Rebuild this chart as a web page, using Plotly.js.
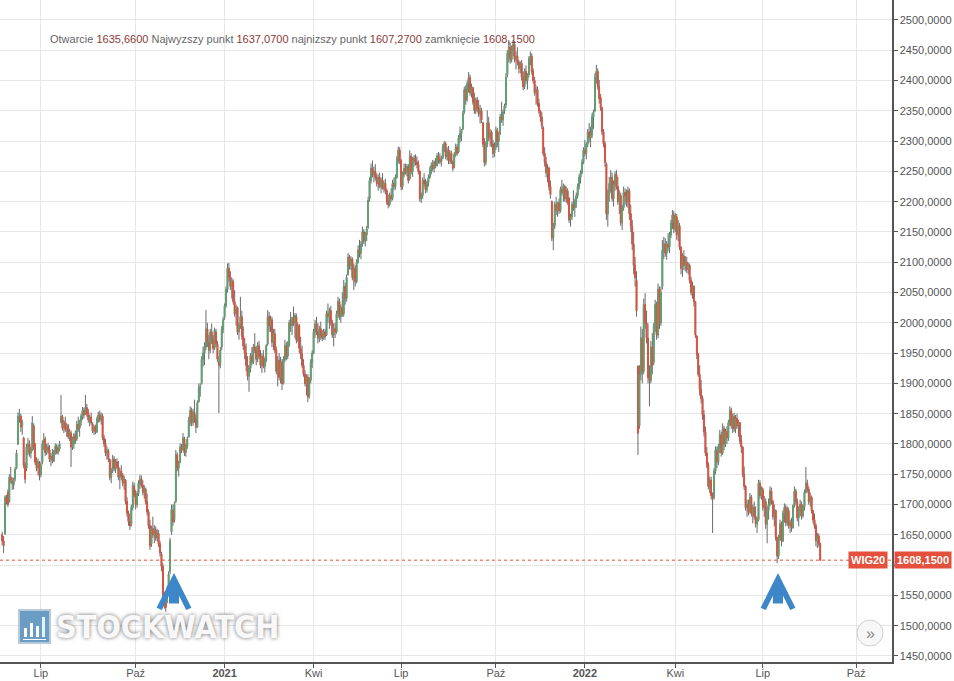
<!DOCTYPE html>
<html><head><meta charset="utf-8">
<script src="https://cdn.plot.ly/plotly-3.0.1.min.js"></script>
<style>html,body{margin:0;padding:0;background:#fff}#chart{width:954px;height:681px}</style>
</head><body><div id="chart"></div>
<script>
const instrument = "WIG20";
const firstSession = "2020-05-22";
const holidays = ["2020-06-11","2020-11-11","2020-12-24","2020-12-25","2020-12-31","2021-01-01","2021-01-06","2021-04-02","2021-04-05","2021-05-03","2021-06-03","2021-11-01","2021-11-11","2021-12-24","2021-12-31","2022-01-06","2022-04-15","2022-04-18","2022-05-03","2022-06-16","2022-08-15","2022-11-01","2022-11-11"];
const tickDates = ["2020-07-01","2020-10-01","2021-01-04","2021-04-01","2021-07-01","2021-10-01","2022-01-03","2022-04-01","2022-07-01","2022-10-03"];
const tickLabels = ["Lip","Paź","<b>2021</b>","Kwi","Lip","Paź","<b>2022</b>","Kwi","Lip","Paź"];
const priceTicks = [1450,1500,1550,1600,1650,1700,1750,1800,1850,1900,1950,2000,2050,2100,2150,2200,2250,2300,2350,2400,2450,2500];

const openP = [
1650,1640,1652,1710,1720,1705,1745,1738,1732,1742,
1760,1800,1848,1846,1830,1810,1765,1760,1795,1800,
1785,1790,1830,1798,1772,1762,1768,1750,1770,1800,
1808,1786,1795,1790,1776,1780,1772,1788,1795,1786,
1792,1836,1845,1828,1836,1825,1830,1812,1818,1795,
1800,1815,1808,1832,1826,1838,1846,1855,1850,1860,
1852,1840,1844,1833,1822,1828,1820,1840,1848,1840,
1846,1810,1800,1785,1788,1774,1745,1756,1775,1760,
1770,1762,1745,1755,1748,1736,1740,1705,1686,1672,
1668,1695,1730,1716,1700,1718,1735,1742,1732,1720,
1725,1705,1688,1665,1635,1660,1650,1658,1645,1652,
1635,1618,1598,1550,1540,1540,1560,1590,1655,1690,
1675,1705,1782,1760,1770,1795,1792,1808,1786,1796,
1812,1840,1855,1836,1852,1840,1828,1870,1892,1900,
1940,1950,1960,1990,1968,1955,1985,1972,1958,1985,
1965,1935,1930,1960,1990,2010,2028,2055,2090,2075,
2060,2068,2035,2015,2025,1985,1995,2010,1978,1962,
1950,1930,1912,1925,1945,1935,1960,1955,1940,1962,
1945,1930,1945,1928,1938,1965,2010,1995,2005,1968,
1982,1955,1920,1938,1910,1935,1900,1940,1962,1945,
1965,2000,1995,2008,2000,2010,1972,1995,1958,1948,
1930,1915,1900,1910,1880,1905,1935,1950,1985,1998,
1985,1975,1990,1980,1975,1985,1980,2015,2010,2020,
2000,1980,1990,1985,2015,2035,2010,2025,2015,2060,
2040,2080,2108,2095,2105,2075,2090,2068,2100,2120,
2115,2130,2150,2135,2145,2158,2205,2235,2255,2245,
2250,2240,2230,2240,2225,2235,2222,2230,2218,2200,
2195,2210,2205,2230,2225,2240,2270,2285,2268,2225,
2245,2255,2250,2258,2238,2275,2250,2268,2272,2265,
2262,2250,2205,2210,2235,2230,2220,2232,2240,2252,
2260,2255,2265,2260,2275,2270,2266,2272,2290,2296,
2275,2285,2268,2280,2265,2258,2278,2290,2282,2305,
2312,2320,2348,2385,2370,2395,2405,2380,2388,2365,
2350,2368,2355,2345,2350,2330,2295,2265,2295,2330,
2305,2315,2295,2280,2290,2318,2300,2312,2340,2335,
2350,2360,2410,2445,2455,2435,2450,2460,2435,2440,
2430,2420,2428,2405,2390,2415,2400,2410,2435,2440,
2415,2400,2380,2385,2362,2350,2340,2322,2280,2265,
2248,2255,2225,2200,2140,2160,2195,2185,2198,2185,
2220,2215,2225,2205,2218,2205,2170,2175,2195,2190,
2200,2210,2225,2240,2248,2265,2285,2280,2295,2315,
2305,2310,2340,2350,2405,2415,2390,2372,2355,2315,
2296,2262,2180,2212,2230,2240,2205,2228,2245,2225,
2200,2210,2165,2190,2215,2210,2200,2218,2180,2160,
2130,2095,2070,1928,1830,1915,1975,1920,2030,2000,
1975,1910,1905,1960,1935,1995,2030,1980,2055,2000,
2060,2120,2130,2115,2130,2125,2145,2165,2178,2155,
2175,2145,2160,2125,2090,2110,2095,2100,2088,2095,
2070,2050,2060,2035,1978,1948,1915,1890,1875,1848,
1820,1785,1765,1730,1740,1715,1712,1755,1790,1770,
1795,1815,1785,1825,1800,1820,1810,1835,1855,1830,
1845,1825,1842,1830,1835,1805,1795,1750,1730,1695,
1700,1688,1712,1685,1695,1680,1668,1675,1735,1715,
1725,1695,1705,1668,1690,1700,1722,1705,1680,1690,
1645,1615,1645,1668,1640,1685,1695,1670,1690,1665,
1670,1662,1698,1722,1705,1678,1690,1700,1682,1696,
1720,1735,1725,1705,1712,1690,1675,1665,1640,1648,
1635.66];

const highP = [
1655,1648,1715,1716,1725,1750,1762,1745,1744,1762,
1790,1852,1858,1850,1840,1812,1770,1800,1810,1806,
1795,1846,1834,1802,1778,1776,1772,1770,1806,1818,
1812,1800,1802,1798,1785,1792,1790,1801,1800,1798,
1805,1881,1848,1840,1845,1834,1833,1825,1822,1812,
1818,1822,1838,1845,1840,1850,1861,1860,1881,1866,
1858,1848,1852,1836,1831,1832,1845,1853,1855,1852,
1850,1815,1808,1796,1792,1776,1760,1782,1780,1775,
1776,1772,1760,1765,1752,1748,1742,1712,1690,1684,
1700,1738,1736,1724,1722,1740,1749,1748,1740,1732,
1728,1718,1692,1675,1665,1680,1666,1664,1660,1658,
1640,1622,1603,1556,1548,1566,1590,1645,1700,1700,
1705,1790,1786,1772,1801,1800,1818,1812,1800,1812,
1845,1862,1860,1858,1873,1848,1872,1900,1900,1945,
1961,1968,2021,2000,1980,1990,1999,1980,1992,1990,
1970,1945,1960,1995,2010,2032,2060,2098,2099,2085,
2075,2072,2054,2030,2027,2000,2043,2020,1994,1975,
1966,1945,1930,1950,1960,1965,1983,1962,1968,1970,
1955,1950,1955,1942,1965,2021,2018,2012,2010,1990,
1990,1961,1945,1950,1944,1940,1945,1972,1968,1970,
2005,2018,2010,2027,2016,2015,2000,1998,1977,1962,
1940,1922,1915,1915,1910,1940,1955,1990,2005,2010,
2000,1995,2002,1988,1990,1990,2020,2032,2025,2028,
2005,1999,2000,2020,2043,2040,2030,2050,2071,2066,
2080,2115,2112,2110,2108,2098,2095,2105,2128,2137,
2135,2159,2155,2150,2160,2208,2240,2263,2268,2258,
2262,2247,2245,2248,2240,2247,2235,2238,2222,2212,
2215,2222,2236,2240,2245,2275,2291,2290,2270,2250,
2263,2263,2262,2262,2285,2280,2274,2277,2278,2275,
2268,2252,2215,2240,2247,2238,2235,2245,2258,2265,
2269,2268,2272,2280,2282,2280,2276,2295,2300,2299,
2290,2292,2285,2284,2268,2282,2296,2295,2310,2324,
2320,2350,2390,2392,2400,2414,2410,2395,2390,2380,
2372,2373,2368,2360,2355,2332,2305,2300,2351,2340,
2320,2318,2302,2298,2324,2322,2315,2345,2365,2352,
2362,2412,2450,2467,2462,2458,2467,2465,2448,2455,
2434,2432,2434,2415,2420,2425,2412,2440,2448,2445,
2420,2406,2392,2390,2370,2351,2348,2325,2290,2274,
2262,2258,2235,2202,2165,2200,2208,2200,2205,2225,
2236,2230,2228,2225,2222,2208,2180,2200,2219,2205,
2215,2230,2245,2252,2270,2290,2302,2298,2320,2330,
2324,2346,2352,2412,2426,2420,2401,2378,2357,2320,
2300,2265,2220,2241,2252,2248,2235,2250,2252,2241,
2219,2215,2195,2225,2222,2220,2225,2222,2195,2170,
2150,2109,2085,1930,1930,1994,1990,2040,2049,2020,
1999,1930,1970,1983,2000,2038,2035,2065,2060,2060,
2137,2142,2140,2135,2148,2150,2170,2186,2185,2181,
2180,2170,2165,2126,2115,2120,2110,2109,2100,2098,
2076,2068,2062,2036,1980,1950,1930,1906,1880,1856,
1829,1795,1770,1746,1746,1720,1760,1796,1796,1800,
1823,1820,1834,1830,1825,1829,1840,1862,1860,1850,
1851,1848,1850,1840,1836,1815,1796,1763,1732,1708,
1708,1719,1716,1700,1705,1697,1680,1741,1740,1730,
1728,1714,1710,1697,1710,1730,1728,1708,1700,1692,
1647,1650,1675,1672,1690,1702,1700,1697,1695,1675,
1678,1700,1730,1726,1710,1697,1708,1705,1700,1725,
1762,1741,1730,1720,1715,1691,1685,1669,1653,1652,
1637.07];

const lowP = [
1633,1620,1650,1700,1696,1703,1735,1724,1725,1738,
1758,1798,1835,1820,1815,1760,1735,1755,1782,1779,
1776,1788,1790,1765,1755,1748,1740,1745,1766,1790,
1780,1782,1784,1770,1763,1768,1770,1782,1783,1782,
1788,1834,1822,1818,1820,1812,1808,1805,1762,1790,
1792,1800,1805,1820,1812,1830,1840,1842,1848,1845,
1835,1829,1832,1818,1815,1816,1818,1835,1836,1832,
1806,1795,1780,1774,1770,1740,1735,1752,1755,1752,
1758,1740,1725,1740,1730,1724,1700,1680,1665,1658,
1664,1690,1712,1692,1695,1714,1726,1728,1715,1710,
1700,1682,1660,1625,1630,1645,1636,1640,1639,1630,
1614,1590,1545,1528,1523,1537,1555,1585,1650,1665,
1670,1702,1755,1746,1768,1785,1788,1780,1779,1792,
1810,1830,1829,1830,1835,1818,1826,1868,1878,1898,
1928,1930,1955,1960,1940,1950,1965,1950,1955,1960,
1935,1851,1925,1955,1983,2005,2025,2050,2068,2054,
2040,2030,2010,1995,1980,1972,1990,1972,1955,1940,
1920,1905,1886,1918,1930,1932,1950,1930,1935,1940,
1925,1917,1925,1918,1935,1962,1985,1985,1960,1955,
1950,1915,1895,1905,1900,1889,1898,1935,1938,1940,
1960,1985,1980,1995,1975,1966,1968,1950,1940,1925,
1911,1895,1880,1869,1875,1900,1925,1948,1975,1980,
1966,1968,1972,1970,1972,1972,1978,2000,1990,1995,
1975,1961,1975,1982,2008,2005,2000,2010,2010,2030,
2035,2078,2088,2087,2070,2054,2060,2065,2098,2108,
2105,2126,2130,2126,2135,2155,2200,2230,2240,2232,
2235,2225,2218,2222,2214,2220,2215,2212,2195,2189,
2192,2200,2202,2219,2220,2238,2263,2262,2219,2220,
2240,2245,2242,2230,2235,2245,2241,2258,2260,2255,
2245,2200,2198,2205,2225,2214,2215,2225,2238,2245,
2250,2248,2255,2258,2263,2262,2258,2270,2282,2270,
2268,2262,2262,2262,2250,2255,2274,2276,2280,2298,
2300,2318,2345,2360,2365,2380,2375,2372,2360,2345,
2345,2348,2340,2329,2330,2290,2258,2260,2290,2300,
2291,2290,2272,2274,2285,2290,2282,2310,2330,2325,
2345,2355,2405,2430,2428,2430,2440,2430,2418,2425,
2412,2412,2400,2384,2386,2395,2385,2405,2425,2410,
2395,2375,2360,2357,2345,2332,2320,2275,2258,2240,
2232,2219,2205,2135,2120,2155,2178,2175,2180,2182,
2210,2200,2200,2198,2195,2165,2159,2170,2185,2175,
2190,2205,2220,2230,2245,2262,2275,2270,2290,2298,
2290,2305,2320,2348,2395,2385,2362,2350,2310,2290,
2258,2170,2159,2200,2215,2200,2192,2218,2220,2195,
2180,2160,2153,2185,2195,2192,2190,2170,2150,2120,
2080,2060,2010,1782,1825,1905,1900,1915,1990,1966,
1900,1862,1900,1915,1930,1985,1972,1975,1990,1995,
2055,2105,2109,2104,2118,2115,2140,2155,2148,2150,
2137,2135,2120,2080,2076,2087,2085,2082,2080,2065,
2045,2040,2027,1975,1940,1911,1880,1867,1840,1812,
1780,1760,1725,1719,1708,1653,1708,1750,1760,1765,
1785,1779,1782,1790,1795,1800,1805,1830,1825,1818,
1820,1818,1825,1812,1800,1785,1745,1724,1690,1680,
1682,1685,1680,1669,1675,1662,1653,1672,1710,1708,
1690,1680,1660,1636,1675,1697,1700,1675,1664,1640,
1603,1610,1640,1631,1638,1670,1664,1665,1660,1653,
1655,1660,1695,1700,1672,1664,1680,1675,1678,1690,
1718,1720,1700,1697,1685,1669,1660,1631,1628,1630,
1607.27];

const closeP = [
1640,1632,1712,1705,1700,1745,1740,1735,1740,1758,
1785,1845,1850,1828,1836,1765,1742,1795,1800,1785,
1790,1835,1796,1770,1760,1770,1748,1765,1800,1808,
1786,1795,1790,1775,1780,1772,1788,1796,1786,1792,
1800,1845,1826,1836,1824,1830,1812,1820,1795,1808,
1815,1806,1832,1825,1838,1846,1855,1848,1860,1850,
1840,1844,1835,1822,1828,1820,1840,1848,1840,1846,
1810,1800,1785,1790,1775,1745,1755,1775,1760,1770,
1762,1745,1755,1748,1735,1742,1705,1686,1672,1665,
1695,1732,1716,1700,1718,1735,1742,1732,1720,1728,
1705,1688,1665,1632,1660,1650,1658,1645,1652,1635,
1620,1598,1550,1540,1530,1562,1585,1640,1692,1672,
1700,1782,1760,1768,1795,1790,1810,1785,1796,1808,
1840,1855,1835,1852,1840,1828,1868,1892,1895,1940,
1950,1960,1990,1968,1955,1985,1972,1958,1988,1965,
1940,1930,1955,1990,2005,2028,2055,2090,2075,2060,
2070,2035,2015,2025,1985,1995,2010,1978,1962,1950,
1930,1912,1925,1945,1935,1960,1955,1940,1962,1945,
1930,1945,1928,1938,1962,2010,1995,2005,1968,1982,
1955,1920,1938,1910,1935,1900,1940,1962,1945,1965,
2000,1995,2008,2000,2012,1972,1995,1958,1948,1930,
1915,1900,1910,1878,1905,1935,1950,1985,1998,1985,
1975,1990,1980,1975,1985,1978,2015,2010,2020,2000,
1980,1990,1985,2015,2035,2010,2025,2015,2060,2040,
2075,2108,2095,2105,2075,2090,2068,2100,2120,2115,
2130,2150,2135,2145,2155,2202,2235,2255,2245,2250,
2240,2230,2240,2225,2235,2222,2230,2218,2200,2195,
2210,2205,2230,2225,2240,2270,2285,2268,2225,2245,
2255,2250,2258,2235,2275,2250,2268,2272,2265,2262,
2250,2205,2210,2235,2230,2220,2232,2240,2252,2260,
2255,2265,2260,2275,2270,2266,2272,2290,2296,2275,
2285,2268,2280,2265,2255,2278,2290,2280,2305,2312,
2318,2346,2385,2368,2395,2405,2380,2388,2365,2350,
2368,2355,2345,2350,2335,2295,2265,2295,2330,2305,
2315,2295,2280,2290,2318,2300,2310,2340,2335,2348,
2358,2405,2445,2455,2435,2450,2460,2435,2440,2430,
2420,2428,2405,2390,2415,2400,2408,2435,2440,2415,
2400,2380,2385,2362,2350,2340,2325,2280,2265,2248,
2255,2225,2212,2140,2160,2195,2185,2198,2185,2220,
2215,2225,2205,2218,2200,2170,2175,2195,2190,2200,
2210,2225,2240,2248,2265,2285,2280,2295,2315,2305,
2310,2340,2348,2405,2415,2390,2370,2355,2315,2296,
2265,2180,2212,2230,2240,2205,2228,2245,2225,2200,
2210,2165,2190,2215,2210,2200,2218,2180,2160,2130,
2095,2075,2020,1818,1915,1975,1920,2030,2000,1975,
1910,1905,1960,1930,1995,2030,1980,2055,2000,2050,
2120,2130,2115,2130,2125,2145,2165,2178,2155,2175,
2145,2160,2125,2090,2110,2095,2100,2088,2095,2070,
2050,2060,2035,1980,1948,1915,1890,1875,1848,1820,
1785,1765,1730,1740,1715,1710,1755,1790,1770,1795,
1815,1785,1825,1800,1820,1810,1835,1855,1830,1845,
1825,1842,1830,1835,1805,1795,1750,1730,1695,1700,
1688,1712,1685,1695,1680,1668,1675,1735,1715,1725,
1695,1705,1668,1690,1700,1722,1705,1680,1690,1645,
1615,1645,1668,1640,1685,1695,1670,1690,1665,1670,
1662,1698,1722,1705,1678,1690,1700,1682,1696,1720,
1735,1725,1705,1712,1690,1675,1665,1640,1648,1636,
1608.15];

function sessions(start, n) {
  const out = []; const d = new Date(start + "T00:00:00Z");
  while (out.length < n) {
    const s = d.toISOString().slice(0, 10); const w = d.getUTCDay();
    if (w !== 0 && w !== 6 && holidays.indexOf(s) < 0) out.push(s);
    d.setUTCDate(d.getUTCDate() + 1);
  }
  return out;
}
const n = closeP.length;
const dates = sessions(firstSession, n);
const bodyHi = openP.map((o, i) => Math.max(o, closeP[i]));
const bodyLo = openP.map((o, i) => Math.min(o, closeP[i]));
const fmt = v => v.toFixed(4).replace(".", ",");
const last = n - 1;
const lastClose = closeP[last];
// the price badge covers the tick label nearest to the last close
const priceTickText = priceTicks.map(v => Math.abs(v - lastClose) < 15 ? "" : fmt(v));

const GREEN = "#5fa373", RED = "#e4503b", WICK = "#6a6a6a";
const traces = [
  { type: "candlestick", x: dates, open: openP, high: highP, low: lowP, close: closeP,
    increasing: { line: { color: WICK, width: 1 }, fillcolor: WICK },
    decreasing: { line: { color: WICK, width: 1 }, fillcolor: WICK },
    hoverinfo: "skip", showlegend: false },
  { type: "candlestick", x: dates, open: openP, high: bodyHi, low: bodyLo, close: closeP,
    increasing: { line: { color: GREEN, width: 1 }, fillcolor: GREEN },
    decreasing: { line: { color: RED, width: 1 }, fillcolor: RED },
    hoverinfo: "skip", showlegend: false }
];

const val = t => '<span style="color:#8a3a36">' + t + '</span>';
const header = "Otwarcie " + val(fmt(openP[last])) + " Najwyzszy punkt " + val(fmt(highP[last])) + " " +
  "najnizszy punkt " + val(fmt(lowP[last])) + " zamknięcie " + val(fmt(closeP[last]));

const W = 892, H = 662;
const px = x => x / W, py = y => (H - y) / H;

const layout = {
  width: 954, height: 681,
  margin: { l: 0, r: 62, t: 0, b: 19, pad: 0 },
  paper_bgcolor: "#ffffff", plot_bgcolor: "#ffffff",
  separators: ", ",
  font: { family: "Liberation Sans, Arial, sans-serif", size: 11, color: "#555" },
  showlegend: false,
  xaxis: {
    type: "date", range: ["2020-05-20 12:00", "2022-11-08"], autorange: false,
    rangebreaks: [{ bounds: ["sat", "mon"] }, { values: holidays }],
    rangeslider: { visible: false },
    tickmode: "array", tickvals: tickDates, ticktext: tickLabels,
    showgrid: true, gridcolor: "#e6e6e6", gridwidth: 1,
    showline: true, linecolor: "#555", linewidth: 1.5,
    ticks: "outside", ticklen: 4, tickcolor: "#555", ticklabelstandoff: -4,
    tickfont: { size: 11, color: "#555" }, zeroline: false, fixedrange: true
  },
  yaxis: {
    side: "right", range: [1440, 2533], autorange: false,
    tickmode: "array", tickvals: priceTicks, ticktext: priceTickText,
    showgrid: true, gridcolor: "#e6e6e6", gridwidth: 1,
    showline: true, linecolor: "#555", linewidth: 1.5,
    ticks: "outside", ticklen: 4, tickcolor: "#555",
    tickfont: { size: 11, color: "#555" }, zeroline: false, fixedrange: true
  },
  shapes: [
    { type: "line", xref: "paper", x0: 0, x1: 1, yref: "y", y0: lastClose, y1: lastClose,
      line: { color: RED, width: 1, dash: "dot" } },
    { type: "rect", xref: "paper", yref: "paper", x0: px(19), x1: px(50), y0: py(643), y1: py(610),
      fillcolor: "#6a9cc4", line: { color: "#b8cadb", width: 2 }, layer: "above" },
    { type: "rect", xref: "paper", yref: "paper", x0: px(24), x1: px(27), y0: py(637), y1: py(628),
      fillcolor: "#ffffff", line: { width: 0 }, layer: "above" },
    { type: "rect", xref: "paper", yref: "paper", x0: px(30), x1: px(33), y0: py(637), y1: py(623),
      fillcolor: "#ffffff", line: { width: 0 }, layer: "above" },
    { type: "rect", xref: "paper", yref: "paper", x0: px(36), x1: px(39), y0: py(637), y1: py(626),
      fillcolor: "#ffffff", line: { width: 0 }, layer: "above" },
    { type: "rect", xref: "paper", yref: "paper", x0: px(42), x1: px(45), y0: py(637), y1: py(617),
      fillcolor: "#dff4fb", line: { width: 0 }, layer: "above" },
    { type: "rect", xref: "paper", yref: "paper", x0: px(23), x1: px(46), y0: py(640), y1: py(639),
      fillcolor: "#ffffff", line: { width: 0 }, layer: "above" },
    { type: "circle", xref: "paper", yref: "paper", x0: px(857), x1: px(883), y0: py(646), y1: py(620),
      fillcolor: "#f7f7f7", line: { color: "#d0d0d0", width: 1 }, layer: "above" }
  ],
  annotations: [
    { xref: "paper", yref: "paper", x: px(48), y: py(39), xanchor: "left", yanchor: "middle",
      text: header, showarrow: false, font: { size: 11, color: "#666" } },
    { xref: "paper", yref: "y", x: px(888), y: lastClose, xanchor: "right", yanchor: "middle",
      text: "<b>" + instrument + "</b>", showarrow: false, bgcolor: RED, borderpad: 2,
      font: { size: 11, color: "#fff" } },
    { xref: "paper", yref: "y", x: 1, xshift: 2, y: lastClose, xanchor: "left", yanchor: "middle",
      text: "<b>" + fmt(lastClose) + "</b>", showarrow: false, bgcolor: RED, borderpad: 2,
      font: { size: 11, color: "#fff" } },
    { xref: "paper", yref: "paper", x: px(54), y: py(627), xanchor: "left", yanchor: "middle",
      text: "<b>STOCKWATCH</b>", showarrow: false,
      font: { family: "DejaVu Sans Condensed, DejaVu Sans, sans-serif", size: 32, color: "rgba(255,255,255,0.96)",
              shadow: "0px 0px 4px rgba(0,0,0,0.6)" } },
    { xref: "paper", yref: "paper", x: px(870), y: py(633), xanchor: "center", yanchor: "middle",
      text: "»", showarrow: false, font: { size: 16, color: "#888" } },
    { xref: "paper", yref: "paper", x: px(174), y: py(573), showarrow: true, ax: 0, ay: 32,
      arrowhead: 5, arrowwidth: 10, arrowsize: 0.58, arrowcolor: "#3d86c8", text: "" },
    { xref: "paper", yref: "paper", x: px(778), y: py(573), showarrow: true, ax: 0, ay: 32,
      arrowhead: 5, arrowwidth: 10, arrowsize: 0.58, arrowcolor: "#3d86c8", text: "" }
  ]
};

Plotly.newPlot("chart", traces, layout, { displayModeBar: false, staticPlot: true });
</script></body></html>
